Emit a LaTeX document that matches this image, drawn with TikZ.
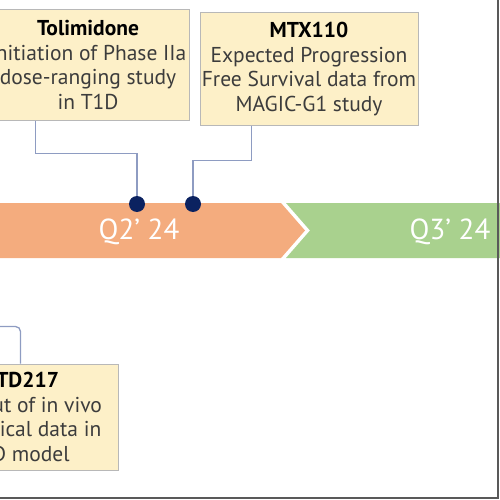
\documentclass[tikz,border=0pt]{standalone}
\usepackage{fontspec}
\setmainfont{PT Sans}
\usetikzlibrary{positioning,calc}
\definecolor{bandorange}{HTML}{F4AC7E}
\definecolor{bandgreen}{HTML}{A9D18E}
\definecolor{note}{HTML}{FDF0C8}
\definecolor{noteline}{HTML}{B8B8B8}
\definecolor{wire}{HTML}{8E9CC2}
\definecolor{navy}{HTML}{0B2260}
\definecolor{body}{HTML}{3C3C3C}

\begin{document}
\begin{tikzpicture}[x=1pt, y=-1pt,
    box/.style={draw=noteline, fill=note, line width=1pt, align=center, inner sep=0pt,
      text=body, font=\fontsize{21.5}{24.5}\selectfont},
    link/.style={draw=wire, line width=1.3pt},
    dot/.style={circle, fill=navy, inner sep=0pt, minimum size=16pt},
    qlabel/.style={text=white, font=\fontsize{29}{30}\selectfont}]
  \useasboundingbox (0,0) rectangle (500,500);
  \clip (0,0) rectangle (500,500);
  % quarter bands
  \fill[bandorange] (-10,203) -- (281,203) -- (305,230.5) -- (281,258) -- (-10,258) -- cycle;
  \fill[bandgreen] (286,203) -- (510,203) -- (510,258) -- (286,258) -- (310,230.5) -- cycle;
  \node[qlabel] (q2) at (139,232) {Q2' 24};
  \node[qlabel] (q3) at (450,232) {Q3' 24};
  % milestone notes
  \node[box, minimum width=202pt, minimum height=110pt] (tol) at (88,65)
    {\textcolor{black}{\textbf{Tolimidone}}\\Initiation of Phase IIa\\dose-ranging study\\in T1D};
  \node[box, minimum width=218pt, minimum height=112pt] (mtx) at (309,69)
    {\textcolor{black}{\textbf{MTX110}}\\Expected Progression\\Free Survival data from\\MAGIC-G1 study};
  \node[box, minimum width=198pt, minimum height=106pt] (mtd) at (19,417)
    {\textcolor{black}{\textbf{MTD217}}\\Readout of in vivo\\preclinical data in\\T1D model};
  % markers on the band
  \node[dot] (d1) at (137,204) {};
  \node[dot] (d2) at (193,204) {};
  \draw[link] ([xshift=49pt]tol.south west) -- ++(0,33) -| (d1.north);
  \draw[link] ([xshift=52pt]mtx.south west) -- ++(0,35) -| (d2.north);
  \draw[link, rounded corners=5pt] ([xshift=-98pt]mtd.north east) -- ++(0,-37) -- ++(-40,0);
  % frame edge
  \draw[line width=2pt, black!65] (0,498) -- (498,498) -- (498,0);
\end{tikzpicture}
\end{document}
